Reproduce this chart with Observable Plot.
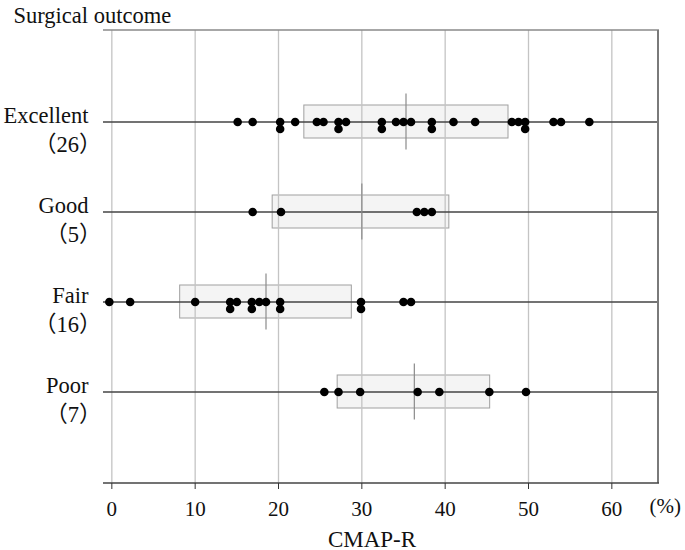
<!DOCTYPE html>
<html><head><meta charset="utf-8">
<script src="https://cdn.jsdelivr.net/npm/d3@7"></script>
<script src="https://cdn.jsdelivr.net/npm/@observablehq/plot@0.6"></script>
<style>
body{margin:0;background:#fff}
svg, svg text{font-family:"Liberation Serif","Noto Sans CJK JP",serif !important}
</style>
</head><body><div id="chart"></div>
<script>
const title = "Surgical outcome";
const xLabel = "CMAP-R";
const xUnit = "(%)";
const outcomes = ["Excellent", "Good", "Fair", "Poor"];
const counts = ["（26）", "（5）", "（16）", "（7）"];
const q1 = [23.1, 19.3, 8.2, 27.1];
const medians = [35.3, 30.0, 18.5, 36.3];
const q3 = [47.6, 40.5, 28.8, 45.4];
const excellentValues = [15.1, 16.9, 20.2, 20.2, 22.0, 24.6, 25.4, 27.2, 27.2, 28.1, 32.4, 32.4, 34.1, 35.0, 35.9, 38.4, 38.4, 41.0, 43.6, 48.0, 48.8, 49.6, 49.6, 53.0, 53.9, 57.3];
const goodValues = [16.9, 20.3, 36.6, 37.5, 38.4];
const fairValues = [-0.3, 2.2, 10.0, 14.2, 14.2, 15.0, 16.8, 16.8, 17.7, 18.5, 20.2, 20.2, 29.9, 29.9, 35.0, 35.9];
const poorValues = [25.5, 27.2, 29.8, 36.7, 39.3, 45.3, 49.7];
const xTicks = [0, 10, 20, 30, 40, 50, 60];

const groups = [excellentValues, goodValues, fairValues, poorValues];
const points = [];
groups.forEach((vals, gi) => {
  const seen = new Map();
  vals.forEach(v => {
    const lvl = seen.get(v) || 0;
    seen.set(v, lvl + 1);
    points.push({outcome: outcomes[gi], value: v, level: lvl});
  });
});
const boxes = outcomes.map((o, i) => ({outcome: o, count: counts[i], q1: q1[i], median: medians[i], q3: q3[i]}));

const FONT = "'Liberation Serif', 'Noto Sans CJK JP', serif";

const borders = (index, scales, values, dims) => {
  const g = d3.create("svg:g");
  const l = dims.marginLeft, r = dims.width - dims.marginRight;
  const t = dims.marginTop, b = dims.height - dims.marginBottom;
  g.append("line").attr("x1", l).attr("x2", r + 1).attr("y1", t).attr("y2", t).attr("stroke", "#8a8a8a").attr("stroke-width", 1.6);
  g.append("line").attr("x1", r).attr("x2", r).attr("y1", t).attr("y2", b).attr("stroke", "#7a7a7a").attr("stroke-width", 2);
  g.append("line").attr("x1", l).attr("x2", r + 1).attr("y1", b).attr("y2", b).attr("stroke", "#444").attr("stroke-width", 1.6);
  return g.node();
};

const chart = Plot.plot({
  width: 685,
  height: 550,
  marginLeft: 103,
  marginRight: 27,
  marginTop: 30,
  marginBottom: 67,
  style: {fontFamily: FONT, fontSize: "22px", color: "#111", background: "#fff", overflow: "visible"},
  x: {domain: [-1, 65.6], axis: null},
  y: {domain: outcomes, type: "band", paddingInner: 0.63, paddingOuter: 0.815, axis: null},
  marks: [
    Plot.barX(boxes, {x1: "q1", x2: "q3", y: "outcome", fill: "#f4f4f4", stroke: "#a0a0a0", strokeWidth: 1}),
    Plot.ruleX(xTicks, {stroke: "#c4c4c4", strokeWidth: 1.3}),
    Plot.ruleY(outcomes, {y: d => d, stroke: "#444", strokeWidth: 1.3}),
    Plot.tickX(boxes, {x: "median", y: "outcome", stroke: "#8a8a8a", strokeWidth: 1.2, insetTop: -11.5, insetBottom: -11.5}),
    Plot.dot(points.filter(d => d.level === 0), {x: "value", y: "outcome", r: 4.3, fill: "#000"}),
    Plot.dot(points.filter(d => d.level === 1), {x: "value", y: "outcome", r: 4.3, fill: "#000", dy: 7}),
    borders,
    Plot.axisX({ticks: xTicks, tickSize: 6, tickPadding: 12, stroke: "#333", fill: "#111", fontSize: 21, fontFamily: FONT, label: null}),
    Plot.text(outcomes, {y: d => d, text: d => d, frameAnchor: "left", textAnchor: "end", dx: -15, dy: -6, fontSize: 22.5, fontFamily: FONT, fill: "#111"}),
    Plot.text(counts, {y: (d, i) => outcomes[i], text: d => d, frameAnchor: "left", textAnchor: "end", dx: -2, dy: 23, fontSize: 22.5, fontFamily: FONT, fill: "#111"}),
    Plot.text([title], {frameAnchor: "top-left", textAnchor: "start", dx: -90, dy: -23, fontSize: 22.5, fontFamily: FONT, fill: "#111"}),
    Plot.text([xLabel], {frameAnchor: "bottom", dx: -9, dy: 63, fontSize: 23, fontFamily: FONT, fill: "#111"}),
    Plot.text([xUnit], {frameAnchor: "bottom-right", textAnchor: "start", dx: -9, dy: 29, fontSize: 21, fontFamily: FONT, fill: "#111"})
  ]
});
document.getElementById("chart").appendChild(chart);
</script>
</body></html>
